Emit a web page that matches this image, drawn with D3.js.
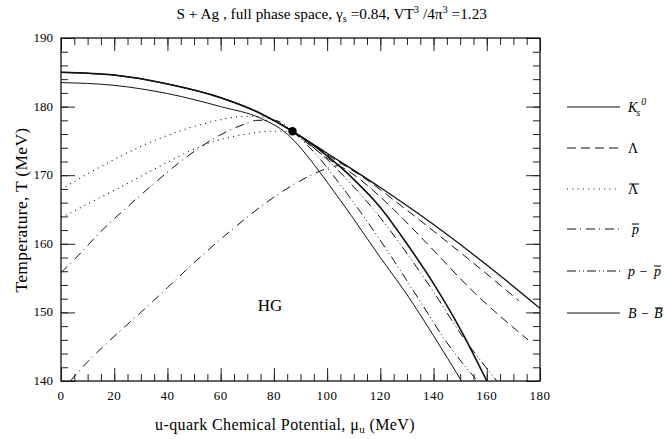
<!DOCTYPE html>
<html><head><meta charset="utf-8">
<script src="https://cdn.jsdelivr.net/npm/d3@7"></script>
<style>body{margin:0;background:#fff}svg{display:block}text{font-family:"Liberation Serif","Times New Roman",serif;fill:#000}</style>
</head><body><svg id="c" width="666" height="439"></svg>
<script>
// data: [mu_u (MeV), T (MeV)]
const ks0_a = [[0,185.0],[20,184.6],[40,183.3],[60,181.3],[75,179.0],[87,176.4],[100,173.2],[120,168.2],[140,162.8],[160,156.9],[180,150.6]];
const ks0_b = [[0,183.5],[20,183.1],[40,181.9],[60,180.0],[75,178.3],[85,176.0],[90,174.0],[95,171.6],[100,169.0],[110,163.6],[120,158.0],[130,152.6],[140,146.6],[150.5,140]];
const lam_a = [[87,176.4],[100,173.0],[115,169.3],[130,164.9],[146,160.0],[160,155.6],[172,151.7]];
const lam_b = [[87,176.4],[100,172.5],[111,169.8],[125,165.0],[137.4,160.1],[155,153.0],[175.5,146.0]];
const alam_a = [[0,167.9],[10,170.2],[20,172.3],[30,174.2],[40,175.8],[50,177.1],[60,178.1],[66,178.5],[72,178.6],[78,178.3],[87,176.5]];
const alam_b = [[0,163.8],[10,165.8],[25,168.8],[40,171.9],[50,173.8],[60,175.2],[70,176.0],[78,176.4],[87,176.4]];
const pbar_a = [[0,155.8],[6,158.1],[15,161.8],[25,165.4],[35,168.8],[44,171.7],[52,174.0],[60,175.9],[68,177.3],[74,178.0],[80,178.0],[87,176.4]];
const pbar_b = [[3.5,140],[10,142.8],[18,145.8],[30,150.0],[40,153.6],[51,157.6],[65,162.3],[80,166.8],[94,170.0],[100,171.0],[105,171.5]];
const ppbar_a = [[87,176.4],[95,173.4],[105,168.6],[115,163.3],[125,157.6],[135,151.6],[145,145.6],[156.5,140]];
const ppbar_b = [[87,176.4],[100,172.3],[110,168.3],[120,163.8],[130,158.6],[140,153.0],[150,147.0],[163.8,140]];
const bb = [[0,185.0],[20,184.6],[40,183.3],[60,181.3],[75,179.0],[87,176.4],[95,174.3],[100,172.8],[110,169.4],[120,165.3],[130,160.0],[140,154.2],[150,147.6],[160,140.0]];
const crossPoint = [87, 176.4];
const xTicks = [0,20,40,60,80,100,120,140,160,180];
const yTicks = [140,150,160,170,180,190];

const svg = d3.select("#c");
const x = d3.scaleLinear().domain([0,180]).range([61,540]);
const y = d3.scaleLinear().domain([140,190]).range([381,38]);

const styles = {
  solid: "none",
  dashed: "9,5",
  dotted: "1,4.3",
  dashdot: "9,4,1,5",
  dashdotdot: "9,3,1,3,1,3"
};
const series = [
  {d: ks0_a, s: "solid", w: 1.3},
  {d: ks0_b, s: "solid", w: 1.0},
  {d: lam_a, s: "dashed", w: 1.0},
  {d: lam_b, s: "dashed", w: 1.0},
  {d: alam_a, s: "dotted", w: 1.1},
  {d: alam_b, s: "dotted", w: 1.1},
  {d: pbar_a, s: "dashdot", w: 1.0},
  {d: pbar_b, s: "dashdot", w: 1.0},
  {d: ppbar_a, s: "dashdotdot", w: 1.0},
  {d: ppbar_b, s: "dashdotdot", w: 1.0},
  {d: bb, s: "solid", w: 1.6}
];

svg.append("defs").append("clipPath").attr("id","clip").append("rect")
  .attr("x",61).attr("y",38).attr("width",479).attr("height",343);

const line = d3.line().x(d=>x(d[0])).y(d=>y(d[1])).curve(d3.curveMonotoneX);
const g = svg.append("g").attr("clip-path","url(#clip)");
series.forEach(s=>{
  g.append("path").attr("d", line(s.d)).attr("fill","none").attr("stroke","#111")
   .attr("stroke-width", s.w).attr("stroke-dasharray", styles[s.s]);
});
svg.append("circle").attr("cx",x(crossPoint[0])).attr("cy",y(crossPoint[1])).attr("r",4.2).attr("fill","#000");

// axes with inward ticks
const minorX = d3.range(0,181,5), minorY = d3.range(140,191,2);
function ax(axisFn, scale, ticks, size, pos){
  const a = axisFn(scale).tickValues(ticks).tickSizeInner(size).tickSizeOuter(0).tickFormat("");
  const gg = svg.append("g").attr("transform", pos).call(a);
  gg.select(".domain").remove();
  gg.selectAll("line").attr("stroke","#222").attr("stroke-width",1);
  return gg;
}
ax(d3.axisBottom, x, minorX, -7, "translate(0,381)");
ax(d3.axisBottom, x, xTicks, -13, "translate(0,381)");
ax(d3.axisTop, x, minorX, -7, "translate(0,38)");
ax(d3.axisTop, x, xTicks, -13, "translate(0,38)");
ax(d3.axisLeft, y, minorY, -7, "translate(61,0)");
ax(d3.axisLeft, y, yTicks, -14, "translate(61,0)");
ax(d3.axisRight, y, minorY, -7, "translate(540,0)");
ax(d3.axisRight, y, yTicks, -14, "translate(540,0)");
// labels
svg.append("g").selectAll("text").data(xTicks).join("text")
  .attr("x",d=>x(d)).attr("y",400).attr("text-anchor","middle").attr("font-size",13).attr("letter-spacing",0.5).text(d=>d);
svg.append("g").selectAll("text").data(yTicks).join("text")
  .attr("x",53).attr("y",d=>y(d)+4).attr("text-anchor","end").attr("font-size",13).text(d=>d);
svg.append("rect").attr("x",61).attr("y",38).attr("width",479).attr("height",343)
  .attr("fill","none").attr("stroke","#111").attr("stroke-width",1.3);

// title
const t = svg.append("text").attr("x",487).attr("y",19).attr("text-anchor","end").attr("font-size",15.3);
t.append("tspan").text("S + Ag , full phase space, γ");
t.append("tspan").attr("font-size",10.5).attr("dy",3).text("s");
t.append("tspan").attr("dy",-3).text(" =0.84, VT");
t.append("tspan").attr("font-size",10.5).attr("dy",-6).text("3");
t.append("tspan").attr("dy",6).text(" /4π");
t.append("tspan").attr("font-size",10.5).attr("dy",-6).text("3");
t.append("tspan").attr("dy",6).text(" =1.23");

// axis titles
const xt = svg.append("text").attr("x",285).attr("y",430).attr("text-anchor","middle").attr("font-size",16).attr("letter-spacing",0.4);
xt.append("tspan").text("u-quark Chemical Potential, μ");
xt.append("tspan").attr("font-size",11).attr("dy",3).text("u");
xt.append("tspan").attr("dy",-3).text(" (MeV)");
svg.append("text").attr("transform","translate(27,210) rotate(-90)").attr("text-anchor","middle")
  .attr("font-size",17.5).attr("letter-spacing",0.3).text("Temperature, T (MeV)");

svg.append("text").attr("x",270).attr("y",311).attr("text-anchor","middle").attr("font-size",17).text("HG");

// legend
const legY = [107,148,189,229,271,313];
const legStyles = ["solid","dashed","dotted","dashdot","dashdotdot","solid"];
legY.forEach((yy,i)=>{
  svg.append("line").attr("x1",567).attr("x2",620).attr("y1",yy).attr("y2",yy)
    .attr("stroke","#111").attr("stroke-width",1).attr("stroke-dasharray",styles[legStyles[i]]);
});
function over(el){
  const b = el.node().getBBox();
  svg.append("line").attr("x1",b.x+1).attr("x2",b.x+b.width).attr("y1",b.y+2).attr("y2",b.y+2)
    .attr("stroke","#000").attr("stroke-width",1);
}
const lf = 14;
let k = svg.append("text").attr("x",628).attr("y",legY[0]+5).attr("font-size",lf).attr("font-style","italic");
k.append("tspan").text("K");
k.append("tspan").attr("font-size",10).attr("dy",4).attr("dx",-1).text("s");
k.append("tspan").attr("font-size",10).attr("dy",-11).attr("dx",1).text("0");
svg.append("text").attr("x",628).attr("y",legY[1]+5).attr("font-size",lf).text("Λ");
over(svg.append("text").attr("x",628).attr("y",legY[2]+5).attr("font-size",lf).text("Λ"));
over(svg.append("text").attr("x",632).attr("y",legY[3]+5).attr("font-size",lf).attr("font-style","italic").text("p"));
svg.append("text").attr("x",628).attr("y",legY[4]+5).attr("font-size",lf).attr("font-style","italic").text("p  −");
over(svg.append("text").attr("x",654).attr("y",legY[4]+5).attr("font-size",lf).attr("font-style","italic").text("p"));
svg.append("text").attr("x",628).attr("y",legY[5]+5).attr("font-size",lf).attr("font-style","italic").text("B  −");
over(svg.append("text").attr("x",654).attr("y",legY[5]+5).attr("font-size",lf).attr("font-style","italic").text("B"));
</script></body></html>
